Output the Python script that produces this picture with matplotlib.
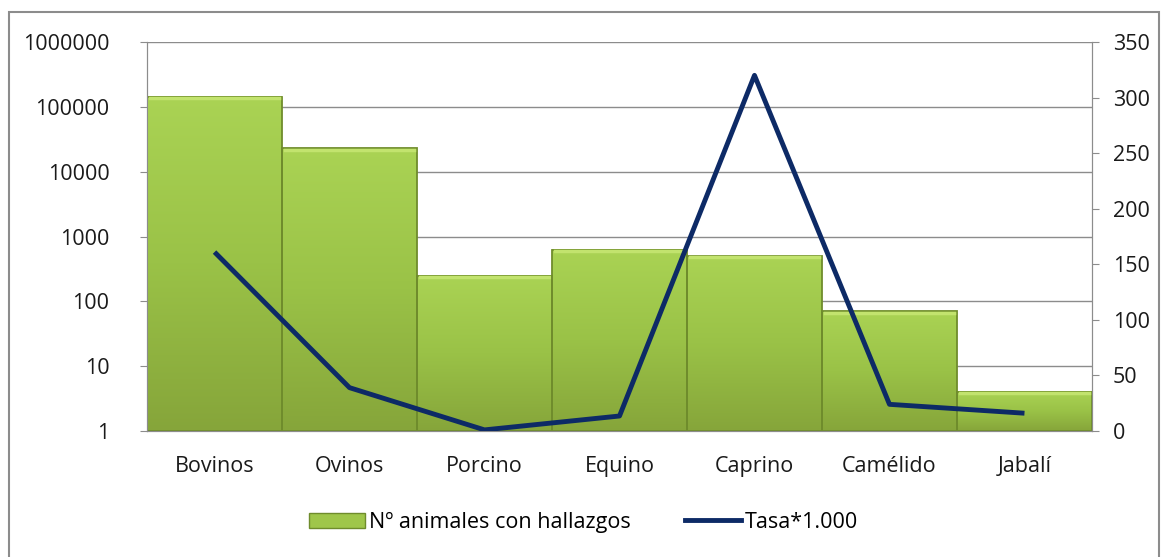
import numpy as np
import matplotlib
matplotlib.use("Agg")
import matplotlib.pyplot as plt
from matplotlib.patches import Rectangle
from matplotlib.lines import Line2D
from matplotlib.colors import LinearSegmentedColormap

plt.rcParams['font.family'] = ['Open Sans', 'DejaVu Sans']

# Data
species = ["Bovinos", "Ovinos", "Porcino", "Equino", "Caprino", "Camélido", "Jabalí"]
animals = [142000, 23000, 250, 620, 500, 70, 4]
rate_x1000 = [161, 39, 1, 13.5, 320, 24, 16]

left_ticks = [1, 10, 100, 1000, 10000, 100000, 1000000]
right_ticks = [0, 50, 100, 150, 200, 250, 300, 350]

bar_label = "Nº animales con hallazgos"
line_label = "Tasa*1.000"

GREEN = "#9fc64a"
EDGE = "#6f8c2c"
NAVY = "#0d2a66"

fig = plt.figure(figsize=(11.67, 5.57), dpi=100)
ax = fig.add_axes([0.126, 0.2262, 0.8097, 0.6984])
x = np.arange(len(species))

ax.set_yscale("log")
ax.set_ylim(1, 1000000)
ax.set_xlim(-0.5, len(species) - 0.5)
ax.set_yticks(left_ticks)
ax.set_yticklabels([str(t) for t in left_ticks])
ax.minorticks_off()
ax.yaxis.grid(True, color="#8c8c8c", linewidth=1.0)
ax.set_axisbelow(True)

bars = ax.bar(x, animals, width=1.0, color=GREEN, edgecolor="none", zorder=2)

ax2 = ax.twinx()
ax2.set_ylim(0, 350)
ax2.set_xlim(-0.5, len(species) - 0.5)
ax2.set_yticks(right_ticks)

# Gradient fill per bar (darker at the base, lighter at the top)
cmap = LinearSegmentedColormap.from_list("grn", ["#86a53a", "#9ac247", "#aad354"])
grad = np.linspace(0, 1, 256).reshape(-1, 1)
to_ax2 = ax.transData + ax2.transData.inverted()
for b in bars:
    bx, bw = b.get_x(), b.get_width()
    top2 = to_ax2.transform((bx, b.get_y() + b.get_height()))[1]
    ax2.imshow(grad, cmap=cmap, aspect="auto", origin="lower",
               extent=(bx, bx + bw, 0, top2), zorder=1)
    # light bevel at the top and dark edge outline
    ax2.add_patch(Rectangle((bx, 0), bw, top2, fill=False, edgecolor=EDGE,
                            linewidth=1.3, zorder=2))
    ax2.plot([bx + 0.02, bx + bw - 0.02], [top2 - 1.2, top2 - 1.2],
             color="#c2e36e", linewidth=2.5, zorder=2)
ax2.set_xlim(-0.5, len(species) - 0.5)
ax2.set_ylim(0, 350)

ax2.plot(x, rate_x1000, color=NAVY, linewidth=3.5, zorder=5,
         solid_capstyle="butt")

for a in (ax, ax2):
    for s in a.spines.values():
        s.set_color("#8c8c8c")
    a.spines["top"].set_visible(False)
    a.tick_params(axis="both", colors="#8c8c8c", labelcolor="#1a1a1a",
                  labelsize=15.5, length=5)
ax.set_xticks(x)
ax.set_xticklabels(species)
ax.tick_params(axis="x", length=0, pad=18)
ax.tick_params(axis="y", pad=22)
ax2.tick_params(axis="y", pad=10)
ax.patch.set_alpha(0)

# Legend
handles = [Rectangle((0, 0), 1, 1, facecolor=GREEN, edgecolor=EDGE),
           Line2D([0], [0], color=NAVY, linewidth=3.5)]
fig.legend(handles, [bar_label, line_label], loc="center", ncol=2,
           bbox_to_anchor=(0.5, 0.062), frameon=False, fontsize=15.5,
           handlelength=2.6, handletextpad=0.2, columnspacing=2.5)

# Outer chart border
fig.patches.append(Rectangle((9 / 1167, -0.05), 1150 / 1167, 1.05 - 12 / 557,
                             transform=fig.transFigure, fill=False,
                             edgecolor="#8c8c8c", linewidth=1.5))

fig.savefig("out.png", dpi=100)
